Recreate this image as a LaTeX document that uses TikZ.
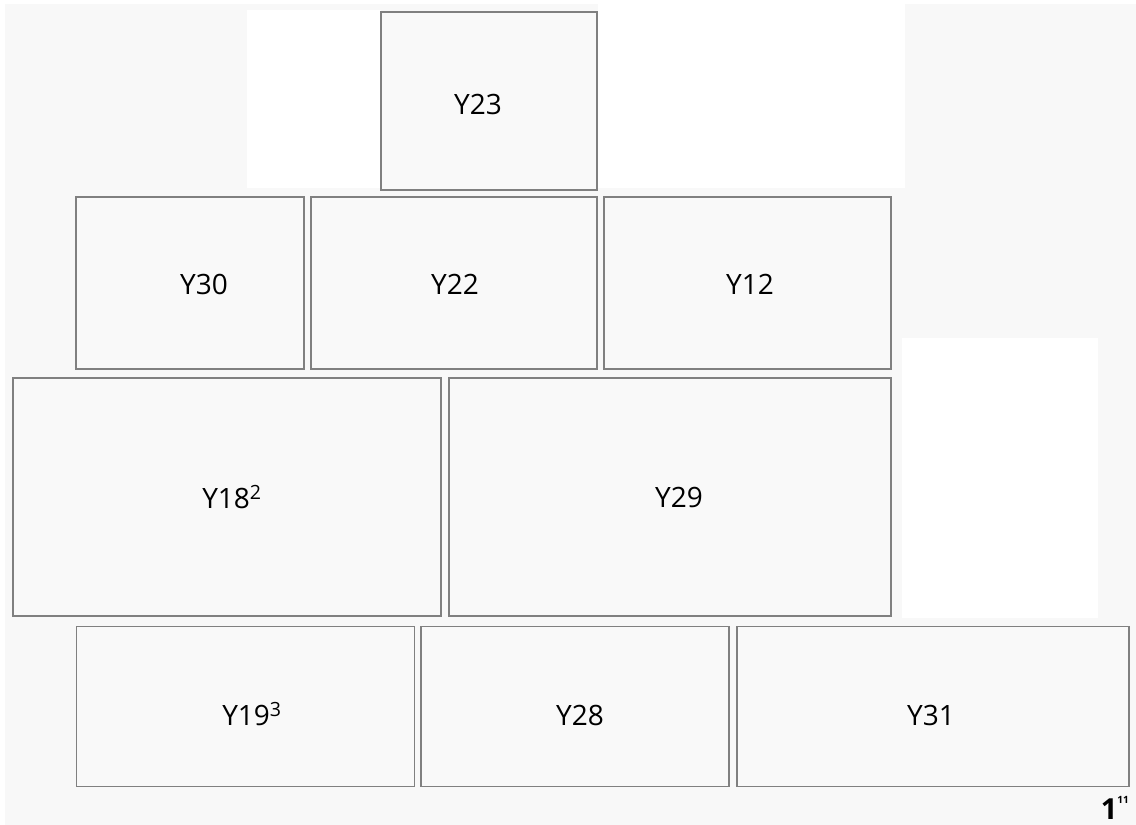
\documentclass[tikz,border=0pt]{standalone}
\usepackage{fontspec}
\setmainfont{Open Sans}
\definecolor{bggray}{HTML}{F8F8F8}
\definecolor{boxfill}{HTML}{F9F9F9}
\definecolor{boxline}{HTML}{808080}
\begin{document}
\begin{tikzpicture}[x=1pt,y=-1pt,
  box/.style={draw=boxline, fill=boxfill, line width=1.4pt, inner sep=0pt, outer sep=0pt, rectangle},
  lab/.style={font=\fontsize{28}{32}\selectfont, inner sep=0pt, text=black}]
\useasboundingbox (0,0) rectangle (1136,825);
\fill[white] (0,0) rectangle (1136,825);
\fill[bggray] (5,4) rectangle (1136,825);
\fill[white] (247,10) rectangle (381,188);
\fill[white] (598,4) rectangle (905,188);
\fill[white] (902,338) rectangle (1098,618);
% boxes
\node[box, minimum width=216, minimum height=178] (Y23) at (489,101) {};
\node[box, minimum width=228, minimum height=172] (Y30) at (190,283) {};
\node[box, minimum width=286, minimum height=172] (Y22) at (454,283) {};
\node[box, minimum width=287, minimum height=172] (Y12) at (747.5,283) {};
\node[box, minimum width=428, minimum height=238] (Y18) at (227,497) {};
\node[box, minimum width=442, minimum height=238] (Y29) at (670,497) {};
\node[box, minimum width=338, minimum height=160] (Y19) at (245.5,706.5) {};
\node[box, minimum width=308, minimum height=160] (Y28) at (575,706.5) {};
\node[box, minimum width=392, minimum height=160] (Y31) at (933,706.5) {};
% labels
\node[lab] (tY23) at (478,104) {Y23};
\node[lab] (tY30) at (204,284) {Y30};
\node[lab] (tY22) at (455,284) {Y22};
\node[lab] (tY12) at (750,284) {Y12};
\node[lab] (tY18) at (232,497) {Y18\textsuperscript{2}};
\node[lab] (tY29) at (679,497) {Y29};
\node[lab] (tY19) at (252,714) {Y19\textsuperscript{3}};
\node[lab] (tY28) at (580,715) {Y28};
\node[lab] (tY31) at (931,715) {Y31};
\node[inner sep=0pt, anchor=south east, font=\bfseries\fontsize{29}{30}\selectfont] (pg) at (1129,820) {1\raisebox{0.55em}{\fontsize{10}{10}\selectfont\bfseries 11}};
\end{tikzpicture}
\end{document}
